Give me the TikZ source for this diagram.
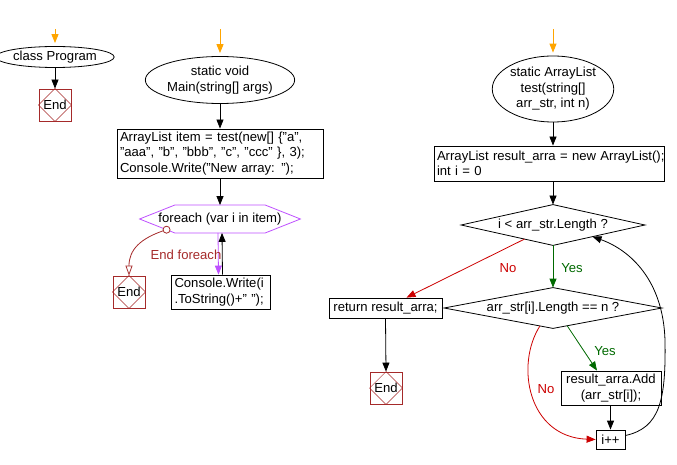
\documentclass[tikz,border=0pt]{standalone}
\usepackage{fontspec}
\setmainfont{Liberation Sans}
\usetikzlibrary{arrows.meta,shapes.geometric,calc}
\definecolor{orng}{RGB}{255,165,0}
\definecolor{endc}{RGB}{165,42,42}
\definecolor{nored}{RGB}{204,0,0}
\definecolor{yesgr}{RGB}{0,105,0}
\definecolor{purp}{RGB}{190,80,255}
\begin{document}
\begin{tikzpicture}[x=1pt,y=-1pt,
  font=\fontsize{13.1}{15.5}\selectfont,
  line width=0.8pt,
  >={Triangle[length=9pt,width=7pt]},
  term/.style={ellipse,draw,inner sep=0pt},
  proc/.style={draw,rectangle,inner sep=0pt},
  endb/.style={draw=endc,rectangle,minimum width=32pt,minimum height=32pt,inner sep=0pt},
  hidden/.style={rectangle,inner sep=0pt},
  start/.style={orng,->,line width=1pt},
  flow/.style={->},
  nolbl/.style={text=nored},
  yeslbl/.style={text=yesgr}]
\useasboundingbox (0,0) rectangle (677,465);

% ---- class Program
\coordinate (s1) at (55,29);
\node[term,minimum width=96pt,minimum height=21pt] (cp) at (55,57) {class Program};
\node[endb] (end1) at (55,105) {End};
\draw[start] (s1) -- ([yshift=3pt]cp.north);
\draw[flow] (cp) -- (end1);

% ---- Main
\coordinate (s2) at (220,29);
\node[term,minimum width=130pt,minimum height=47pt,align=center] (mainE) at (220,80) {static void\\Main(string[] args)};
\node[proc,minimum width=206pt,minimum height=49pt,text width=200pt,align=left] (box1) at (220,153.5)
  {\mbox{ArrayList item = test(new[] \{"a",}\\\mbox{"aaa", "b", "bbb", "c", "ccc" \}, 3);}\\\mbox{Console.Write("New array: ");}};
\draw[start] (s2) -- ([yshift=3pt]mainE.north);
\draw[flow] (mainE) -- (box1);

\node[hidden,minimum width=160pt,minimum height=27pt] (fe) at (220,219) {foreach (var i in item)};
\draw[purp] (fe.west) -- ($(fe.north west)+(35,0)$) -- ($(fe.north east)+(-35,0)$) -- (fe.east)
  -- ($(fe.south east)+(-35,0)$) -- ($(fe.south west)+(35,0)$) -- cycle;
\draw[flow] (box1) -- (fe.north);

\node[proc,minimum width=99pt,minimum height=34pt,text width=92pt,align=left] (con) at (220.5,292)
  {\mbox{Console.Write(i}\\\mbox{.ToString()+" ");}};
\draw[purp,->] ($(fe.south)+(-2,0)$) -- ($(con.north)+(-2,0)$);
\draw[flow] ($(con.north)+(2,0)$) -- ($(fe.south)+(2,0)$);

\node[endb] (end2) at (129,292) {End};
\coordinate (efs) at ($(fe.west)!0.77!($(fe.south west)+(35,0)$)$);
\draw[endc,-{Triangle[open,length=10pt,width=7pt,fill=white]}] (efs) .. controls (140,238) and (129,250) .. (end2.north);
\draw[endc,fill=white] (efs) circle (3.5pt);
\node[text=endc] (eflbl) at (186,255) {End foreach};

% ---- test
\coordinate (s3) at (553,29);
\node[term,minimum width=116pt,minimum height=66pt,align=center] (testE) at (553,89)
  {static ArrayList\\test(string[]\\arr\_str, int n)};
\node[proc,minimum width=230pt,minimum height=35pt,text width=224pt,align=left] (box2) at (549,163.5)
  {\mbox{ArrayList result\_arra = new ArrayList();}\\\mbox{int i = 0}};
\draw[start] (s3) -- ([yshift=3pt]testE.north);
\draw[flow] (testE) -- (box2.north -| testE.south);

\node[hidden,minimum width=183pt,minimum height=40pt] (d1) at (553,225) {i < arr\_str.Length ?};
\draw (d1.north) -- (d1.east) -- (d1.south) -- (d1.west) -- cycle;
\draw[flow] (box2.south -| d1.north) -- (d1.north);

\node[hidden,minimum width=217pt,minimum height=40pt] (d2) at (553,308) {arr\_str[i].Length == n ?};
\draw (d2.north) -- (d2.east) -- (d2.south) -- (d2.west) -- cycle;

\node[proc,minimum width=113pt,minimum height=20pt] (ret) at (385.5,308) {return result\_arra;};
\node[endb] (end3) at (386,388) {End};
\node[proc,minimum width=100pt,minimum height=34pt,align=center] (add) at (611,388)
  {result\_arra.Add\\(arr\_str[i]);};
\node[proc,minimum width=29pt,minimum height=19pt] (ipp) at (610.5,439.5) {i++};

\draw[yesgr,->] (d1.south) -- (d2.north);
\node[yeslbl] (y1) at (572,268) {Yes};
\draw[nored,->] ($(d1.west)!0.69!(d1.south)$) -- ($(ret.north)+(21,0)$);
\node[nolbl] (n1) at (508,268) {No};

\draw[flow] (ret.south) -- (end3.north);

\draw[yesgr,->] ($(d2.south)!0.13!(d2.east)$) -- ($(add.north)+(-14,0)$);
\node[yeslbl] (y2) at (605,351) {Yes};
\draw[nored,->] ($(d2.south)!0.12!(d2.west)$) .. controls (515,365) and (528,437) .. (ipp.west);
\node[nolbl] (n2) at (546,389) {No};

\draw[flow] (add.south -| ipp.north) -- (ipp.north);
\draw[flow] ($(ipp.east)+(0,-4)$) .. controls (660,428) and (666,400) .. (665,340)
  .. controls (663,280) and (630,250) .. ($(d1.south)!0.43!(d1.east)$);

\foreach \n in {end1,end2,end3}
  \draw[endc,line width=0.5pt] (\n.north) -- (\n.east) -- (\n.south) -- (\n.west) -- cycle;
\end{tikzpicture}
\end{document}
